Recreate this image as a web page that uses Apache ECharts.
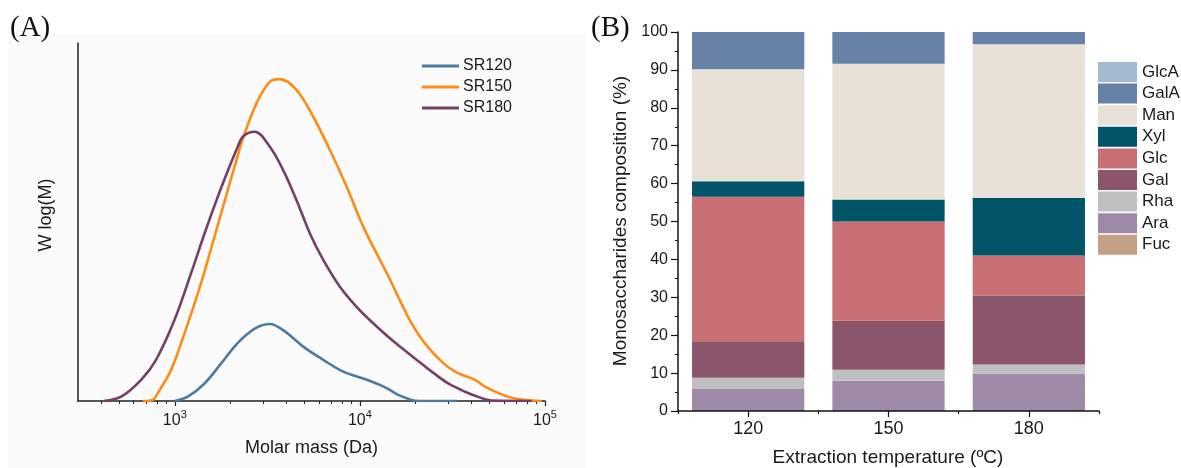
<!DOCTYPE html>
<html>
<head>
<meta charset="utf-8">
<script src="https://cdn.jsdelivr.net/npm/echarts@6/dist/echarts.min.js"></script>
<style>
html,body{margin:0;padding:0;background:#fff;}
#c{width:1181px;height:468px;}
</style>
</head>
<body>
<div id="c"></div>
<script>
// ---------- Panel A: molar mass distribution ----------
const massSR120 = [1000,1175,1448,1780,1982,2172,2339,2767,3263,3850,4940,6339,8128,10420,12820,14521,16106,19010,20650,33340];
const wSR120    = [0,0.012,0.049,0.105,0.136,0.160,0.177,0.205,0.215,0.198,0.152,0.115,0.082,0.063,0.045,0.031,0.017,0.003,0,0];

const massSR150 = [672,761,809,955,1128,1387,1639,1933,2172,2339,2767,3263,3698,4546,5595,6887,8472,10420,12820,14521,16106,19010,22450,27670,32650,36980,41850,47420,55980,66070,77950,95940];
const wSR150    = [0,0.003,0.022,0.087,0.189,0.329,0.459,0.589,0.680,0.735,0.832,0.892,0.899,0.869,0.794,0.701,0.599,0.487,0.394,0.340,0.291,0.217,0.161,0.110,0.082,0.070,0.059,0.040,0.022,0.009,0.003,0];

const massSR180 = [413,513,658,792,996,1225,1448,1708,1976,2172,2339,2706,3263,3850,4546,5370,6339,7798,9594,11803,14521,16106,19815,24420,30000,36980,45500,51520,84720];
const wSR180    = [0,0.012,0.059,0.115,0.226,0.357,0.468,0.571,0.655,0.706,0.739,0.752,0.710,0.645,0.561,0.468,0.394,0.319,0.263,0.217,0.175,0.156,0.119,0.082,0.049,0.026,0.008,0.001,0];

const seriesNamesA = ['SR120','SR150','SR180'];
const massTicksMajor = [1000,10000,100000];
const massTicksMinor = [400,500,600,700,800,900,2000,3000,4000,5000,6000,7000,8000,9000,20000,30000,40000,50000,60000,70000,80000,90000];

// ---------- Panel B: monosaccharide composition ----------
const temperatures = ['120','150','180'];
const sugarNames = ['GlcA','GalA','Man','Xyl','Glc','Gal','Rha','Ara','Fuc']; // legend order (top to bottom)
const Fuc  = [0,0,0];
const Ara  = [5.8,8.0,9.8];
const Rha  = [3.0,2.9,2.5];
const Gal  = [9.6,12.9,18.2];
const Glc  = [38.1,26.2,10.5];
const Xyl  = [4.1,5.8,15.2];
const Man  = [29.6,35.8,40.6];
const GalA = [9.8,8.4,3.2];
const GlcA = [0,0,0];

const colorsA = {SR120:'#4c7aa3', SR150:'#ff8b16', SR180:'#773f68'};
const colorsB = {GlcA:'#a4bad0', GalA:'#6782a6', Man:'#e8e1d7', Xyl:'#025468', Glc:'#c86f74', Gal:'#8b566b', Rha:'#bfbfbf', Ara:'#9e8aa6', Fuc:'#c4a084'};

const FONT = 'Liberation Sans, Arial, sans-serif';
const TXT = '#1a1a1a';

const chart = echarts.init(document.getElementById('c'), null, {renderer:'canvas'});

const massA = {SR120: massSR120, SR150: massSR150, SR180: massSR180};
const wA = {SR120: wSR120, SR150: wSR150, SR180: wSR180};
const lineSeries = seriesNamesA.map(n => ({
  name: n, type: 'line', xAxisIndex: 0, yAxisIndex: 0,
  data: massA[n].map((m,i) => [m, wA[n][i]]),
  smooth: 0.35, showSymbol: false, symbol: 'none',
  lineStyle: {color: colorsA[n], width: 2.6},
  itemStyle: {color: colorsA[n]},
  z: 3
}));

const sugarData = {Fuc, Ara, Rha, Gal, Glc, Xyl, Man, GalA, GlcA};
const stackOrder = ['Fuc','Ara','Rha','Gal','Glc','Xyl','Man','GalA','GlcA'];
const barSeries = stackOrder.map(n => ({
  name: n, type: 'bar', stack: 'comp', xAxisIndex: 2, yAxisIndex: 1,
  data: sugarData[n], barCategoryGap: '20%',
  itemStyle: {color: colorsB[n]},
  emphasis: {disabled: true}
}));

const option = {
  animation: false,
  backgroundColor: '#fff',
  graphic: [
    {type:'rect', left: 8, top: 33, shape:{width: 578, height: 435}, style:{fill:'#fbfbfb'}, z: -10, silent: true},
    {type:'text', left: 10, top: 14, style:{text:'(A)', font:'29px "Liberation Serif", "Times New Roman", serif', fill:'#111'}},
    {type:'text', left: 591, top: 14, style:{text:'(B)', font:'29px "Liberation Serif", "Times New Roman", serif', fill:'#111'}},
    {type:'text', x: 46.5, y: 215, rotation: Math.PI/2,
     style:{text:'W log(M)', font:'18px "Liberation Sans", Arial, sans-serif', fill: TXT, align:'center', verticalAlign:'middle'}},
    {type:'text', x: 311.5, y: 448,
     style:{text:'Molar mass (Da)', font:'18px "Liberation Sans", Arial, sans-serif', fill: TXT, align:'center', verticalAlign:'middle'}},
    {type:'text', x: 621, y: 221, rotation: Math.PI/2,
     style:{text:'Monosaccharides composition (%)', font:'19px "Liberation Sans", Arial, sans-serif', fill: TXT, align:'center', verticalAlign:'middle'}},
    {type:'text', x: 888, y: 458,
     style:{text:'Extraction temperature (ºC)', font:'19px "Liberation Sans", Arial, sans-serif', fill: TXT, align:'center', verticalAlign:'middle'}}
  ],
  legend: [
    {
      data: seriesNamesA, orient: 'vertical', left: 422, top: 57, padding: 0,
      itemWidth: 37, itemHeight: 3, itemGap: 3, icon: 'rect',
      textStyle: {fontFamily: FONT, fontSize: 16, color: TXT, lineHeight: 18, padding: [0,0,0,-1]},
      selectedMode: false
    },
    {
      data: sugarNames, orient: 'vertical', left: 1098, top: 62, padding: 0,
      itemWidth: 39, itemHeight: 20, itemGap: 1.6, icon: 'rect',
      textStyle: {fontFamily: FONT, fontSize: 17, color: TXT},
      selectedMode: false
    }
  ],
  grid: [
    {left: 78, right: 636, top: 43, bottom: 67},
    {left: 678, right: 82, top: 32, bottom: 57}
  ],
  xAxis: [
    {
      gridIndex: 0, type: 'log', logBase: 10, min: 300, max: 100000, position: 'bottom',
      axisLine: {show: true, lineStyle: {color: '#222', width: 1.5}},
      axisTick: {show: true, customValues: massTicksMajor, length: 5, lineStyle: {color: '#222', width: 1.2}},
      axisLabel: {
        show: true, customValues: massTicksMajor, margin: 8,
        formatter: v => '{b|10}{s|' + Math.round(Math.log10(v)) + '}',
        rich: {
          b: {fontFamily: FONT, fontSize: 16, color: TXT, lineHeight: 20, verticalAlign: 'bottom'},
          s: {fontFamily: FONT, fontSize: 11, color: TXT, lineHeight: 20, verticalAlign: 'top'}
        }
      },
      splitLine: {show: false}, minorTick: {show: false}
    },
    {
      gridIndex: 0, type: 'log', logBase: 10, min: 300, max: 100000, position: 'bottom',
      axisLine: {show: false},
      axisTick: {show: true, customValues: massTicksMinor, length: 3, lineStyle: {color: '#222', width: 1}},
      axisLabel: {show: false},
      splitLine: {show: false}
    },
    {
      gridIndex: 1, type: 'category', data: temperatures, position: 'bottom',
      axisLine: {show: true, lineStyle: {color: '#111', width: 1.5}},
      axisTick: {show: true, alignWithLabel: true, length: 6, lineStyle: {color: '#111', width: 1.2}},
      axisLabel: {fontFamily: FONT, fontSize: 18, color: TXT, margin: 9},
      z: 5
    },
    {
      gridIndex: 1, type: 'category', data: temperatures, position: 'bottom',
      axisLine: {show: false},
      axisTick: {show: true, length: 3, lineStyle: {color: '#111', width: 1.2}},
      axisLabel: {show: false}
    }
  ],
  yAxis: [
    {
      gridIndex: 0, type: 'value', min: 0, max: 1,
      axisLine: {show: true, lineStyle: {color: '#222', width: 1.5}},
      axisTick: {show: false}, axisLabel: {show: false}, splitLine: {show: false}
    },
    {
      gridIndex: 1, type: 'value', min: 0, max: 100, interval: 10,
      axisLine: {show: true, lineStyle: {color: '#111', width: 1.5}},
      axisTick: {show: true, length: 7, lineStyle: {color: '#111', width: 1.2}},
      minorTick: {show: true, splitNumber: 2, length: 3, lineStyle: {color: '#111', width: 1}},
      axisLabel: {fontFamily: FONT, fontSize: 16, color: TXT, margin: 10},
      splitLine: {show: false}, minorSplitLine: {show: false},
      z: 5
    }
  ],
  series: [...lineSeries, ...barSeries]
};
chart.setOption(option);
</script>
</body>
</html>
